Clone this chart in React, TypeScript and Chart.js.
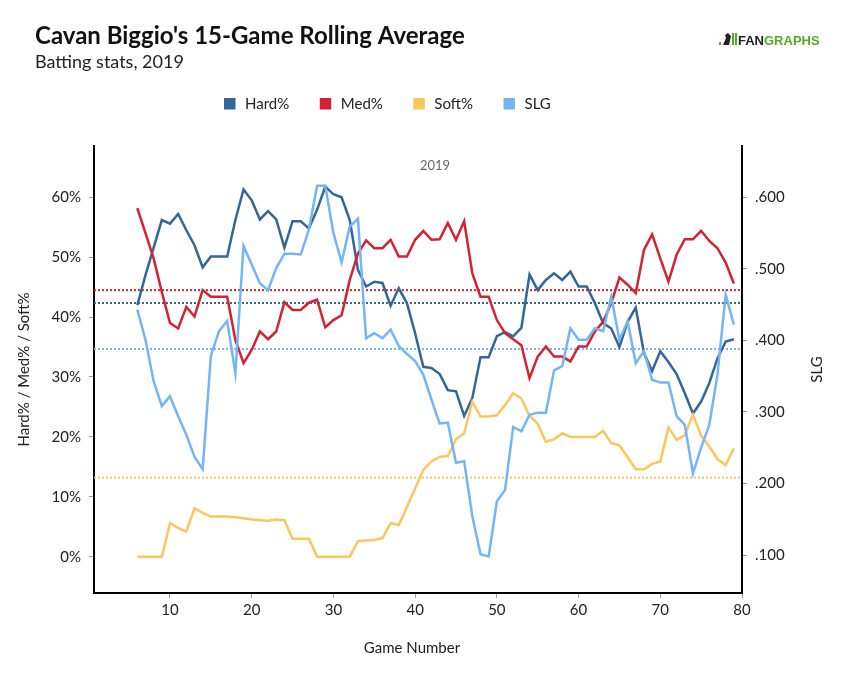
import React, { useEffect, useRef } from "react";
import { Chart, registerables } from "chart.js";

Chart.register(...registerables);

const TITLE = "Cavan Biggio's 15-Game Rolling Average";
const SUBTITLE = "Batting stats, 2019";
const SEASON_LABEL = "2019";

const games = [
  6, 7, 8, 9, 10, 11, 12, 13, 14, 15, 16, 17, 18, 19, 20, 21, 22, 23, 24, 25,
  26, 27, 28, 29, 30, 31, 32, 33, 34, 35, 36, 37, 38, 39, 40, 41, 42, 43, 44, 45,
  46, 47, 48, 49, 50, 51, 52, 53, 54, 55, 56, 57, 58, 59, 60, 61, 62, 63, 64, 65,
  66, 67, 68, 69, 70, 71, 72, 73, 74, 75, 76, 77, 78, 79,
];

const hardPct = [
  42.0, 47.0, 51.6, 56.2, 55.6, 57.2, 54.5, 52.0, 48.3, 50.1, 50.1, 50.1, 56.2, 61.3, 59.5, 56.3, 57.7, 56.3, 51.6, 56.0,
  56.0, 54.8, 57.9, 61.8, 60.5, 60.0, 56.2, 47.9, 45.1, 45.9, 45.7, 41.9, 44.8, 42.3, 37.3, 31.7, 31.5, 30.5, 27.8, 27.6,
  23.5, 26.5, 33.3, 33.3, 36.8, 37.5, 36.8, 38.2, 47.1, 44.5, 46.2, 47.3, 46.2, 47.6, 45.1, 45.1, 42.3, 39.0, 38.1, 35.0,
  39.2, 41.6, 34.0, 31.0, 34.3, 32.5, 30.5, 27.3, 23.9, 25.9, 29.0, 33.1, 35.9, 36.3,
];

const medPct = [
  58.2, 54.0, 49.8, 44.2, 39.0, 38.1, 41.7, 40.1, 44.5, 43.4, 43.4, 43.4, 36.2, 32.3, 34.5, 37.6, 36.3, 37.6, 42.5, 41.2,
  41.2, 42.4, 42.9, 38.3, 39.5, 40.3, 46.2, 50.6, 52.8, 51.5, 51.5, 52.9, 50.1, 50.1, 52.9, 54.4, 52.9, 53.0, 55.7, 52.9,
  56.0, 47.3, 43.4, 43.4, 39.5, 37.3, 36.3, 35.3, 29.8, 33.4, 35.1, 33.4, 33.4, 32.6, 35.1, 35.1, 37.6, 39.2, 42.3, 46.6,
  45.4, 44.0, 51.2, 53.8, 49.8, 45.9, 50.4, 53.0, 53.0, 54.4, 52.7, 51.5, 49.1, 45.6,
];

const softPct = [
  0, 0, 0, 0, 5.6, 4.8, 4.2, 8.1, 7.3, 6.7, 6.7, 6.7, 6.6, 6.4, 6.2, 6.1, 6.0, 6.2, 6.1, 3.0,
  3.0, 3.0, 0, 0, 0, 0, 0, 2.6, 2.7, 2.8, 3.1, 5.6, 5.3, 8.3, 11.4, 14.5, 15.9, 16.7, 16.8, 19.6,
  20.6, 25.9, 23.4, 23.4, 23.6, 25.3, 27.3, 26.4, 23.5, 22.2, 19.2, 19.6, 20.6, 20.0, 20.0, 20.0, 20.0, 21.0, 19.0, 18.6,
  16.6, 14.6, 14.6, 15.5, 15.9, 21.6, 19.5, 20.3, 23.7, 20.2, 18.4, 16.3, 15.3, 18.1,
];

const slg = [
  0.443, 0.401, 0.343, 0.308, 0.322, 0.294, 0.268, 0.237, 0.22, 0.378, 0.413, 0.427, 0.354, 0.532, 0.506, 0.48, 0.47, 0.501, 0.521, 0.521,
  0.52, 0.555, 0.616, 0.616, 0.55, 0.509, 0.559, 0.57, 0.403, 0.41, 0.403, 0.415, 0.392, 0.381, 0.371, 0.352, 0.317, 0.284, 0.285, 0.229,
  0.231, 0.154, 0.101, 0.098, 0.175, 0.191, 0.279, 0.273, 0.296, 0.299, 0.299, 0.358, 0.364, 0.417, 0.401, 0.401, 0.417, 0.413, 0.461, 0.401,
  0.427, 0.368, 0.385, 0.345, 0.341, 0.341, 0.294, 0.282, 0.214, 0.25, 0.282, 0.352, 0.464, 0.422,
];

// season averages (dotted reference lines)
const avgHard = 42.35;
const avgMed = 44.5;
const avgSoft = 13.2;
const avgSlg = 0.388;

const xTicks = [10, 20, 30, 40, 50, 60, 70, 80];
const pctTicks = [0, 10, 20, 30, 40, 50, 60];
const slgTicks = [0.1, 0.2, 0.3, 0.4, 0.5, 0.6];

const X_MIN = 0.7;
const X_MAX = 80;
const PCT_MIN = -6.06;
const PCT_MAX = 68.56;
const SLG_MIN = 0.0469;
const SLG_MAX = 0.6717;

const FONT = "Lato, 'Noto Sans', sans-serif";
const C_HARD = "#336699";
const C_MED = "#d42232";
const C_SOFT = "#fbc65c";
const C_SLG = "#74b4f8";
const TEXT = "#222";

const legendItems = [
  { label: "Hard%", color: C_HARD },
  { label: "Med%", color: C_MED },
  { label: "Soft%", color: C_SOFT },
  { label: "SLG", color: C_SLG },
];

const pts = (vals: number[]) => games.map((g, i) => ({ x: g, y: vals[i] }));
const flat = (v: number) => [
  { x: X_MIN, y: v },
  { x: X_MAX, y: v },
];

const decorPlugin = {
  id: "decor",
  afterDraw(chart: any) {
    const ctx = chart.ctx as CanvasRenderingContext2D;
    const area = chart.chartArea;
    ctx.save();
    // title / subtitle
    ctx.textAlign = "left";
    ctx.textBaseline = "alphabetic";
    ctx.fillStyle = "#111";
    ctx.font = `bold 24px ${FONT}`;
    ctx.fillText(TITLE, 35, 44);
    ctx.fillStyle = "#222";
    ctx.font = `18px ${FONT}`;
    ctx.fillText(SUBTITLE, 35, 68);

    // legend
    ctx.font = `15px ${FONT}`;
    ctx.textBaseline = "middle";
    let lx = 224;
    legendItems.forEach((it) => {
      ctx.fillStyle = it.color;
      ctx.fillRect(lx, 98, 11.5, 11.5);
      ctx.fillStyle = TEXT;
      ctx.fillText(it.label, lx + 21, 104.5);
      lx += 21 + ctx.measureText(it.label).width + 30.5;
    });

    // season label
    ctx.textAlign = "center";
    ctx.fillStyle = "#666";
    ctx.font = `13px ${FONT}`;
    ctx.fillText(SEASON_LABEL, 435, 166);

    // axis titles
    ctx.fillStyle = TEXT;
    ctx.font = `15px ${FONT}`;
    const cy = (area.top + area.bottom) / 2;
    ctx.save();
    ctx.translate(24, cy);
    ctx.rotate(-Math.PI / 2);
    ctx.fillText("Hard% / Med% / Soft%", 0, 0);
    ctx.restore();
    ctx.save();
    ctx.translate(817, cy);
    ctx.rotate(-Math.PI / 2);
    ctx.fillText("SLG", 0, 0);
    ctx.restore();
    ctx.fillText("Game Number", 412, 648);

    // logo
    ctx.fillStyle = "#50ae26";
    ctx.fillRect(719, 42, 2, 3);
    ctx.fillRect(732, 33, 2, 12);
    ctx.fillRect(735, 33, 2, 12);
    ctx.fillStyle = "#222";
    ctx.beginPath();
    ctx.moveTo(723, 45);
    ctx.lineTo(726, 38);
    ctx.lineTo(725, 35);
    ctx.lineTo(728, 33);
    ctx.lineTo(731, 36);
    ctx.lineTo(729, 45);
    ctx.closePath();
    ctx.fill();
    ctx.textAlign = "left";
    ctx.textBaseline = "alphabetic";
    ctx.font = `bold 13px 'Liberation Sans', Arial, sans-serif`;
    ctx.fillStyle = "#222";
    ctx.fillText("FAN", 738, 45);
    const w = ctx.measureText("FAN").width;
    ctx.fillStyle = "#50ae26";
    ctx.fillText("GRAPHS", 738 + w, 45);
    ctx.restore();
  },
};

export default function App() {
  const ref = useRef<HTMLCanvasElement | null>(null);
  useEffect(() => {
    if (!ref.current) return;
    const line = (label: string, data: any, color: string, axis: string, order: number) => ({
      label,
      data,
      borderColor: color,
      backgroundColor: color,
      borderWidth: 2.5,
      pointRadius: 0,
      tension: 0,
      fill: false,
      yAxisID: axis,
      order,
    });
    const dotted = (label: string, v: number, color: string, axis: string) => ({
      label,
      data: flat(v),
      borderColor: color,
      borderWidth: 2,
      borderDash: [2, 2],
      pointRadius: 0,
      fill: false,
      yAxisID: axis,
      order: 10,
    });
    const tickFont = { family: FONT, size: 15 };
    const chart = new Chart(ref.current, {
      type: "line",
      data: {
        datasets: [
          line("Hard%", pts(hardPct), C_HARD, "y", 4),
          line("Med%", pts(medPct), C_MED, "y", 3),
          line("Soft%", pts(softPct), C_SOFT, "y", 2),
          line("SLG", pts(slg), C_SLG, "y1", 1),
          dotted("Hard% avg", avgHard, C_HARD, "y"),
          dotted("Med% avg", avgMed, C_MED, "y"),
          dotted("Soft% avg", avgSoft, C_SOFT, "y"),
          dotted("SLG avg", avgSlg, C_SLG, "y1"),
        ] as any,
      },
      options: {
        animation: false,
        responsive: false,
        maintainAspectRatio: false,
        layout: { padding: { top: 146, left: 0, right: 0, bottom: 0 } },
        plugins: {
          legend: { display: false },
          title: { display: false },
          tooltip: { enabled: false },
        },
        scales: {
          x: {
            type: "linear",
            position: "bottom",
            min: X_MIN,
            max: X_MAX,
            afterBuildTicks: (s: any) => {
              s.ticks = xTicks.map((v) => ({ value: v }));
            },
            afterFit: (s: any) => {
              s.height = 94;
            },
            ticks: { color: TEXT, font: tickFont, padding: 3, maxRotation: 0 },
            grid: { drawOnChartArea: false, drawTicks: true, tickLength: 5, color: "#999" },
            border: { display: true, color: "#000", width: 2 },
          },
          y: {
            type: "linear",
            position: "left",
            min: PCT_MIN,
            max: PCT_MAX,
            afterBuildTicks: (s: any) => {
              s.ticks = pctTicks.map((v) => ({ value: v }));
            },
            afterFit: (s: any) => {
              s.width = 94;
            },
            ticks: { color: TEXT, font: tickFont, padding: 8, callback: (v: any) => `${v}%` },
            grid: { drawOnChartArea: false, drawTicks: true, tickLength: 5, color: "#999" },
            border: { display: true, color: "#000", width: 2 },
          },
          y1: {
            type: "linear",
            position: "right",
            min: SLG_MIN,
            max: SLG_MAX,
            afterBuildTicks: (s: any) => {
              s.ticks = slgTicks.map((v) => ({ value: v }));
            },
            afterFit: (s: any) => {
              s.width = 105;
            },
            ticks: {
              color: TEXT,
              font: tickFont,
              padding: 8,
              callback: (v: any) => "." + String(Math.round(Number(v) * 1000)).padStart(3, "0"),
            },
            grid: { drawOnChartArea: false, drawTicks: true, tickLength: 5, color: "#999" },
            border: { display: true, color: "#000", width: 2 },
          },
        },
      } as any,
      plugins: [decorPlugin],
    });
    return () => chart.destroy();
  }, []);
  return (
    <div style={{ position: "fixed", left: 0, top: 0, width: 847, height: 687, background: "#fff" }}>
      <canvas ref={ref} width={847} height={687} style={{ width: 847, height: 687, display: "block" }} />
    </div>
  );
}
